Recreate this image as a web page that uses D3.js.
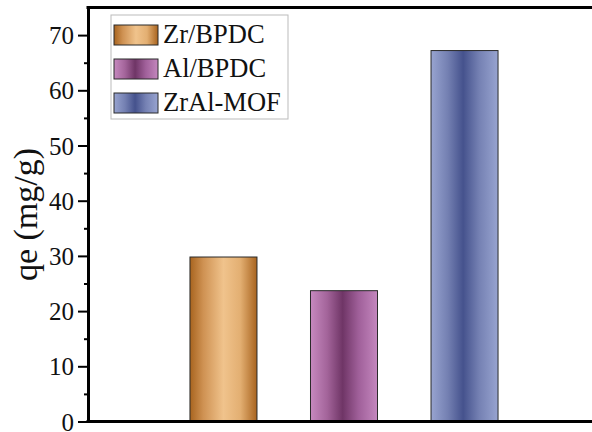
<!DOCTYPE html>
<html>
<head>
<meta charset="utf-8">
<style>
  body { margin: 0; background: white; }
  svg { display: block; }
  text { font-family: "Liberation Serif", "Times New Roman", serif; fill: #111; }
</style>
</head>
<body>
<div id="chart"></div>
<script src="https://d3js.org/d3.v7.min.js"></script>
<script>
  // data
  var samples = ["Zr/BPDC", "Al/BPDC", "ZrAl-MOF"];
  var qe = [29.8, 23.7, 67.2];
  var yTicks = [0, 10, 20, 30, 40, 50, 60, 70];
  var yMinor = [5, 15, 25, 35, 45, 55, 65];

  var W = 592, H = 432;
  var plotLeft = 88, plotTop = 7.5, plotBottom = 421.5, plotRight = 600;

  // gradient stops per bar (edge / centre shading)
  var shades = {
    "Zr/BPDC": [["0%", "#a8641f"], ["20%", "#cf9253"], ["50%", "#f0c38c"], ["75%", "#e3af72"], ["100%", "#a9641f"]],
    "Al/BPDC": [["0%", "#c689bf"], ["25%", "#a3649a"], ["48%", "#6f3566"], ["72%", "#a0609a"], ["100%", "#c487be"]],
    "ZrAl-MOF": [["0%", "#98a4d0"], ["25%", "#7480b2"], ["48%", "#45528d"], ["72%", "#7581b3"], ["100%", "#98a4d0"]]
  };

  var svg = d3.select("#chart").append("svg")
    .attr("width", W).attr("height", H);

  var defs = svg.append("defs");
  samples.forEach(function(s, i) {
    var g = defs.append("linearGradient")
      .attr("id", "grad" + i)
      .attr("x1", "0%").attr("x2", "100%").attr("y1", "0%").attr("y2", "0%");
    shades[s].forEach(function(st) {
      g.append("stop").attr("offset", st[0]).attr("stop-color", st[1]);
    });
  });

  var x = d3.scaleBand()
    .domain(samples)
    .range([plotLeft, plotRight])
    .paddingInner(0.444)
    .paddingOuter(0.846)
    .align(0.5);

  var y = d3.scaleLinear()
    .domain([0, 75])
    .range([plotBottom, plotTop]);

  // bars
  svg.append("g")
    .selectAll("rect")
    .data(samples)
    .enter().append("rect")
    .attr("x", function(d) { return x(d); })
    .attr("width", x.bandwidth())
    .attr("y", function(d, i) { return y(qe[i]); })
    .attr("height", function(d, i) { return y(0) - y(qe[i]); })
    .attr("fill", function(d, i) { return "url(#grad" + i + ")"; })
    .attr("stroke", "#2a2a2a")
    .attr("stroke-width", 1);

  // minor ticks
  svg.append("g")
    .attr("transform", "translate(" + plotLeft + ",0)")
    .call(d3.axisLeft(y).tickValues(yMinor).tickSize(4).tickFormat(""))
    .call(function(g) { g.select(".domain").remove(); })
    .selectAll("line").attr("stroke", "#000").attr("stroke-width", 2);

  // y axis
  var yAxis = svg.append("g")
    .attr("transform", "translate(" + plotLeft + ",0)")
    .call(d3.axisLeft(y).tickValues(yTicks).tickSize(10).tickPadding(4).tickSizeOuter(0));
  yAxis.select(".domain").attr("stroke", "#000").attr("stroke-width", 3);
  yAxis.selectAll(".tick line").attr("stroke", "#000").attr("stroke-width", 2);
  yAxis.selectAll(".tick text")
    .style("font-family", "'Liberation Serif', 'Times New Roman', serif")
    .style("font-size", "25px")
    .attr("dy", "0.34em")
    .attr("fill", "#111");

  // x axis line and top frame
  svg.append("line")
    .attr("x1", plotLeft - 1.5).attr("x2", plotRight)
    .attr("y1", plotBottom).attr("y2", plotBottom)
    .attr("stroke", "#000").attr("stroke-width", 3);
  svg.append("line")
    .attr("x1", plotLeft - 1.5).attr("x2", plotRight)
    .attr("y1", plotTop).attr("y2", plotTop)
    .attr("stroke", "#000").attr("stroke-width", 3);

  // y label
  svg.append("text")
    .attr("transform", "translate(37," + ((plotTop + plotBottom) / 2) + ") rotate(-90)")
    .attr("text-anchor", "middle")
    .style("font-size", "34px")
    .text("qe (mg/g)");

  // legend
  var lg = svg.append("g").attr("transform", "translate(111,15)");
  lg.append("rect")
    .attr("width", 177).attr("height", 104)
    .attr("fill", "white")
    .attr("stroke", "#bbb").attr("stroke-width", 1);
  var item = lg.selectAll(".item")
    .data(samples)
    .enter().append("g")
    .attr("transform", function(d, i) { return "translate(3," + (10 + i * 34) + ")"; });
  item.append("rect")
    .attr("width", 44).attr("height", 20)
    .attr("fill", function(d, i) { return "url(#grad" + i + ")"; })
    .attr("stroke", "#2a2a2a").attr("stroke-width", 1);
  item.append("text")
    .attr("x", 49).attr("y", 18)
    .style("font-size", "26.5px")
    .text(function(d) { return d; });
</script>
</body>
</html>
